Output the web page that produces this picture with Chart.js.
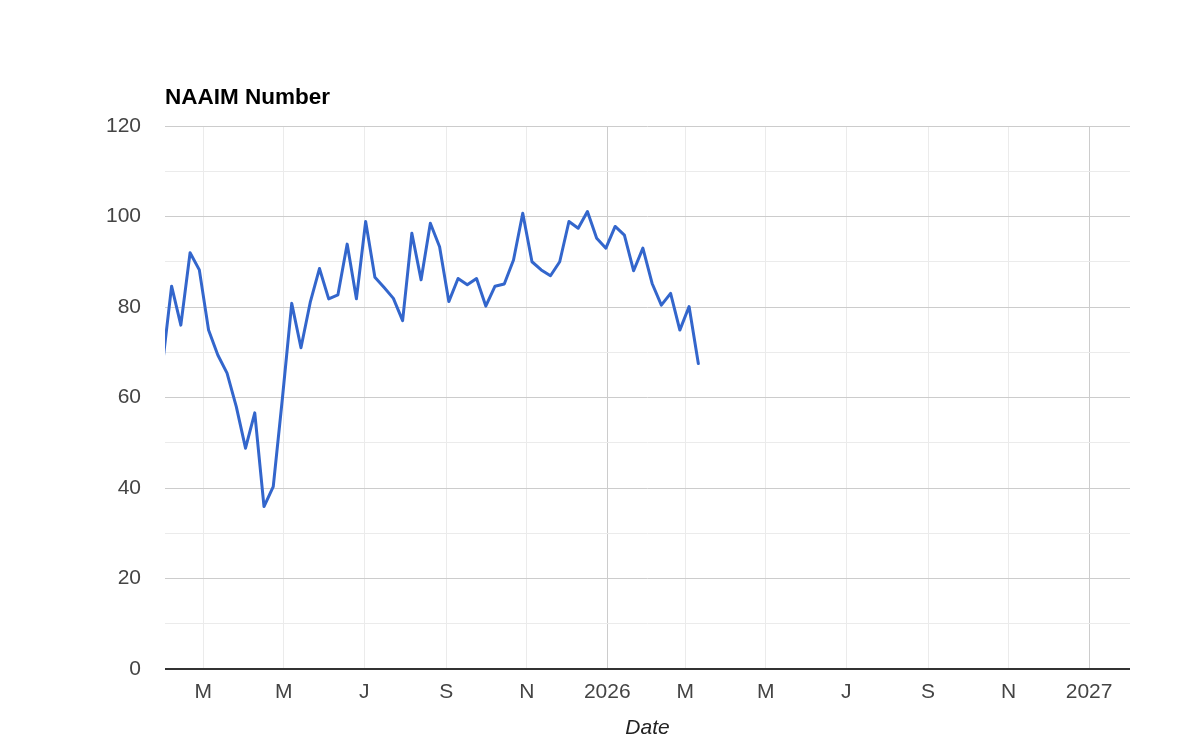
<!DOCTYPE html>
<html><head><meta charset="utf-8">
<style>html,body{margin:0;padding:0;background:#fff}#wrap{width:1200px;height:744px}</style>
<script src="https://cdn.jsdelivr.net/npm/chart.js@4.4.1/dist/chart.umd.min.js"></script>
</head><body><div id="wrap"><canvas id="c" width="1200" height="744"></canvas></div>
<script>
const chartTitle = 'NAAIM Number';
const xAxisTitle = 'Date';
const dates = [
 '2025-01-29','2025-02-05','2025-02-12','2025-02-19','2025-02-26',
 '2025-03-05','2025-03-12','2025-03-19','2025-03-26',
 '2025-04-02','2025-04-09','2025-04-16','2025-04-23','2025-04-30',
 '2025-05-07','2025-05-14','2025-05-21','2025-05-28',
 '2025-06-04','2025-06-11','2025-06-18','2025-06-25',
 '2025-07-02','2025-07-09','2025-07-16','2025-07-23','2025-07-30',
 '2025-08-06','2025-08-13','2025-08-20','2025-08-27',
 '2025-09-03','2025-09-10','2025-09-17','2025-09-24',
 '2025-10-01','2025-10-08','2025-10-15','2025-10-22','2025-10-29',
 '2025-11-05','2025-11-12','2025-11-19','2025-11-26',
 '2025-12-03','2025-12-10','2025-12-17','2025-12-24','2025-12-31',
 '2026-01-07','2026-01-14','2026-01-21','2026-01-28',
 '2026-02-04','2026-02-11','2026-02-18','2026-02-25',
 '2026-03-04','2026-03-11'
];
const naaim = [
 67, 84.6, 76, 92, 88.2,
 74.9, 69.4, 65.4, 58,
 48.8, 56.6, 35.9, 40.3, 60,
 80.8, 71, 81, 88.5,
 81.8, 82.7, 93.9, 81.8,
 98.9, 86.6, 84.3, 81.9, 77,
 96.3, 86, 98.5, 93.3,
 81.2, 86.3, 84.9, 86.3,
 80.2, 84.6, 85.1, 90.4, 100.7,
 90, 88.2, 86.9, 90,
 98.9, 97.4, 101.1, 95.2, 93,
 97.8, 95.9, 88, 93,
 85.2, 80.4, 83, 74.9,
 80.1, 67.5
];
const tickDates = ['2025-03-01','2025-05-01','2025-07-01','2025-09-01','2025-11-01','2026-01-01',
                   '2026-03-01','2026-05-01','2026-07-01','2026-09-01','2026-11-01','2027-01-01'];
const tickLabels = ['M','M','J','S','N','2026','M','M','J','S','N','2027'];
const yearTickDates = ['2026-01-01','2027-01-01'];
const xMinDate = '2025-01-31';
const xMaxDate = '2027-02-01';
const yTicksLabelled = [0,20,40,60,80,100,120];

const day = d => Date.parse(d + 'T00:00:00Z') / 86400000;
const tickDays = tickDates.map(day);
const yearDays = yearTickDates.map(day);

Chart.defaults.font.family = '"Liberation Sans", Arial, sans-serif';

const titlePlugin = {
  id: 'leftTitle',
  afterDraw(chart) {
    const c = chart.ctx;
    c.save();
    c.font = 'bold 22.5px "Liberation Sans", Arial, sans-serif';
    c.fillStyle = '#000';
    c.textAlign = 'left';
    c.textBaseline = 'alphabetic';
    c.fillText(chartTitle, chart.chartArea.left, 104);
    c.restore();
  }
};

new Chart(document.getElementById('c'), {
  type: 'line',
  data: {
    datasets: [{
      data: dates.map((d, i) => ({ x: day(d), y: naaim[i] })),
      borderColor: '#3366cc',
      borderWidth: 3,
      pointRadius: 0,
      tension: 0,
      fill: false,
      borderJoinStyle: 'round',
      borderCapStyle: 'round'
    }]
  },
  options: {
    responsive: false,
    animation: false,
    devicePixelRatio: 1,
    layout: { padding: { top: 126, right: 70, bottom: 0, left: 0 } },
    plugins: { legend: { display: false }, tooltip: { enabled: false } },
    scales: {
      x: {
        type: 'linear',
        min: day(xMinDate),
        max: day(xMaxDate),
        afterBuildTicks: s => { s.ticks = tickDays.map(v => ({ value: v })); },
        afterFit: s => { s.height = 75; },
        ticks: {
          autoSkip: false, maxRotation: 0, minRotation: 0,
          padding: 11,
          color: '#444',
          font: { size: 21 },
          callback: v => { const i = tickDays.indexOf(v); return i >= 0 ? tickLabels[i] : ''; }
        },
        grid: {
          drawTicks: false,
          color: ctx => (ctx.tick && yearDays.includes(ctx.tick.value)) ? '#cccccc' : '#ebebeb',
          lineWidth: 1
        },
        border: { display: false },
        title: { display: true, text: xAxisTitle, color: '#222', font: { size: 21, style: 'italic' }, padding: { top: 0, bottom: 3 } }
      },
      y: {
        min: 0, max: 120,
        afterFit: s => { s.width = 165; },
        ticks: {
          stepSize: 10,
          padding: 24,
          color: '#444',
          font: { size: 21 },
          callback: v => yTicksLabelled.includes(v) ? String(v) : ''
        },
        grid: {
          drawTicks: false,
          color: ctx => {
            const v = ctx.tick ? ctx.tick.value : null;
            if (v === 0) return '#333333';
            return (v % 20 === 0) ? '#cccccc' : '#ebebeb';
          },
          lineWidth: ctx => (ctx.tick && ctx.tick.value === 0) ? 2 : 1
        },
        border: { display: false }
      }
    }
  },
  plugins: [titlePlugin]
});
</script>
</body></html>
